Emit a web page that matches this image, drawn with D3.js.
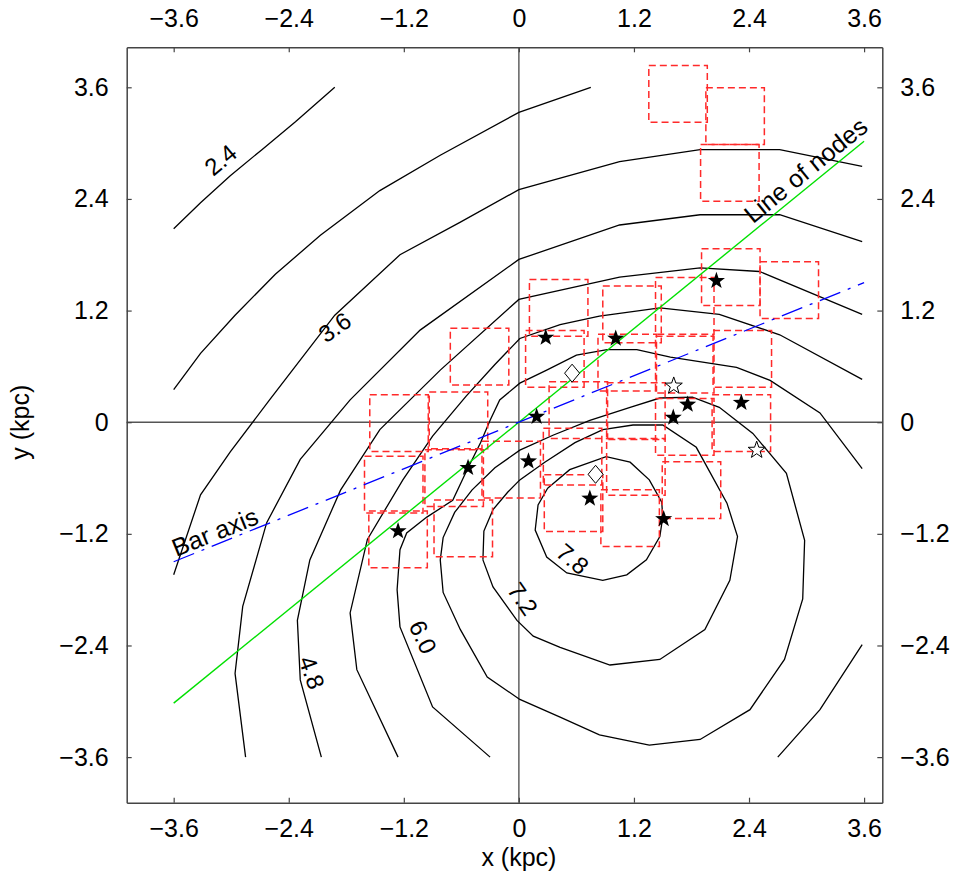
<!DOCTYPE html>
<html>
<head>
<meta charset="utf-8">
<script src="https://cdn.jsdelivr.net/npm/d3@7"></script>
<style>
  body { margin: 0; background: #fff; }
  svg text { font-family: "Liberation Sans", Arial, sans-serif; }
</style>
</head>
<body>
<div id="chart"></div>
<script>
// ---- data (kpc) ----
const xTicks = [-3.6, -2.4, -1.2, 0, 1.2, 2.4, 3.6];
const yTicks = [-3.6, -2.4, -1.2, 0, 1.2, 2.4, 3.6];
const xDomain = [-4.09, 3.79];
const yDomain = [-4.09, 4.03];

// isodensity contours, one polyline (or several) per level
const contour2_4 = [[[-3.60,2.08],[-3.32,2.36],[-3.01,2.65],[-2.68,2.93],[-2.33,3.23],[-1.92,3.60]]];
const contour3_0 = [[[-3.60,0.35],[-3.32,0.74],[-2.96,1.15],[-2.54,1.59],[-2.07,2.01],[-1.45,2.49],[-0.82,2.87],[0.0,3.33],[0.75,3.60]]];
const contour3_6 = [[[-3.60,-1.64],[-3.32,-0.78],[-3.01,-0.32],[-2.60,0.24],[-1.92,1.15],[-1.24,1.80],[-0.61,2.15],[0.0,2.50],[1.05,2.80],[1.89,2.93],[2.72,2.93],[3.58,2.75]]];
const contour4_2 = [[[-2.85,-3.60],[-2.96,-2.70],[-2.88,-1.98],[-2.63,-1.08],[-2.28,-0.40],[-1.76,0.24],[-1.03,0.99],[0.0,1.75],[1.05,2.12],[1.89,2.23],[2.72,2.23],[3.58,1.94]]];
const contour4_8 = [[[-2.06,-3.60],[-2.28,-2.77],[-2.31,-2.13],[-2.18,-1.48],[-1.86,-0.73],[-1.45,-0.08],[-0.82,0.56],[0.0,1.32],[1.05,1.56],[1.89,1.66],[2.51,1.62],[3.58,1.16]]];
const contour5_4 = [
  [[-1.26,-3.60],[-1.69,-2.66],[-1.76,-2.05],[-1.58,-1.26],[-1.21,-0.62],[-0.90,-0.15],[-0.55,0.28],[-0.25,0.62],[0.01,0.90],[0.43,1.05],[0.84,1.14],[1.47,1.23],[2.09,1.16],[2.72,0.94],[3.58,0.46]],
  [[3.58,-2.39],[3.14,-3.09],[2.70,-3.60]]
];
const contour6_0 = [[[-0.30,-3.60],[-0.90,-3.06],[-1.24,-2.20],[-1.27,-1.80],[-1.24,-1.37],[-1.17,-1.19],[-0.96,-1.02],[-0.69,-0.84],[-0.53,-0.49],[-0.40,-0.22],[-0.30,0.02],[-0.20,0.24],[0.01,0.42],[0.29,0.56],[0.60,0.72],[0.92,0.78],[1.23,0.78],[1.58,0.70],[2.27,0.59],[2.62,0.45],[3.14,0.10],[3.58,-0.50]]];
const contour6_6 = [[[0.43,-3.17],[0.01,-2.98],[-0.33,-2.74],[-0.61,-2.23],[-0.79,-1.83],[-0.82,-1.48],[-0.79,-1.24],[-0.67,-0.97],[-0.49,-0.73],[-0.25,-0.49],[0.01,-0.30],[0.355,-0.14],[0.74,0.02],[1.16,0.16],[1.47,0.26],[1.81,0.27],[2.09,0.16],[2.44,-0.12],[2.79,-0.55],[2.98,-1.27],[2.96,-1.90],[2.77,-2.55],[2.41,-3.09],[1.89,-3.41],[1.36,-3.47],[0.84,-3.36],[0.43,-3.17]]];
const contour7_2 = [[[-0.375,-1.48],[-0.365,-1.17],[-0.27,-0.94],[-0.115,-0.75],[0.01,-0.62],[0.27,-0.43],[0.585,-0.22],[0.875,-0.08],[1.19,-0.03],[1.50,-0.03],[1.85,-0.27],[2.17,-0.87],[2.28,-1.23],[2.20,-1.70],[1.94,-2.23],[1.47,-2.55],[0.95,-2.61],[0.43,-2.42],[0.15,-2.30],[-0.02,-2.13],[-0.27,-1.77],[-0.375,-1.48]]];
const contour7_8 = [[[0.30,-0.71],[0.53,-0.51],[0.91,-0.37],[1.16,-0.43],[1.36,-0.62],[1.49,-0.86],[1.50,-1.02],[1.47,-1.23],[1.33,-1.48],[1.125,-1.64],[0.875,-1.70],[0.50,-1.62],[0.29,-1.45],[0.17,-1.16],[0.20,-0.89],[0.30,-0.71]]];
const contourSets = [contour2_4, contour3_0, contour3_6, contour4_2, contour4_8, contour5_4, contour6_0, contour6_6, contour7_2, contour7_8];

// contour labels: [x, y, text, angle]
const contourLabels = [
  [-3.11, 2.82, "2.4", -40],
  [-1.92, 1.02, "3.6", -35],
  [-2.16, -2.69, "4.8", 70],
  [-1.00, -2.31, "6.0", 65],
  [0.04, -1.90, "7.2", 55],
  [0.56, -1.47, "7.8", 40]
];

// field centres (kpc), 0.61 kpc on a side
const fieldSize = 0.61;
const fieldCentres = [
  [1.66,3.53],[2.255,3.29],[2.20,2.68],[2.21,1.56],[2.82,1.42],[1.73,1.25],
  [0.415,1.23],[1.18,1.16],[0.375,0.68],[1.13,0.64],[1.73,0.62],[2.33,0.68],
  [0.62,0.13],[1.22,0.12],[1.73,-0.05],[2.32,-0.01],[1.80,-0.73],[0.56,-0.37],
  [0.57,-0.87],[1.16,-1.03],[1.22,-0.48],[-0.08,-0.51],[-1.25,-0.01],[-0.63,0.02],
  [-1.305,-0.67],[-0.675,-0.60],[-1.26,-1.26],[-0.58,-1.14],[-0.41,0.705]
];

const filledStars = [[0.28,0.91],[1.01,0.90],[2.06,1.52],[0.185,0.06],[1.61,0.05],[1.76,0.19],[2.32,0.21],[-0.53,-0.49],[0.10,-0.42],[0.74,-0.82],[1.51,-1.04],[-1.26,-1.17]];
const openStars = [[1.615,0.39],[2.48,-0.30]];
const diamonds = [[0.555,0.527],[0.80,-0.56]];

const lineOfNodes = [[-3.6,-3.02],[3.6,3.02]];
const barAxis = [[-3.6,-1.50],[3.6,1.50]];

// ---- drawing ----
const W = 959, H = 877;
const svg = d3.select('#chart').append('svg').attr('width', W).attr('height', H);

const x = d3.scaleLinear().domain(xDomain).range([126.7, 882.3]);
const y = d3.scaleLinear().domain(yDomain).range([802.7, 47.3]);

const fmt = d => d === 0 ? '0' : d3.format('.1f')(d);
const line = d3.line().x(d => x(d[0])).y(d => y(d[1]));

// zero lines
svg.append('line').attr('x1', x(0)).attr('x2', x(0)).attr('y1', y.range()[0]).attr('y2', y.range()[1])
  .attr('stroke', '#555').attr('stroke-width', 1.4);
svg.append('line').attr('y1', y(0)).attr('y2', y(0)).attr('x1', x.range()[0]).attr('x2', x.range()[1])
  .attr('stroke', '#555').attr('stroke-width', 1.4);

// contours
contourSets.forEach(set => {
  set.forEach(seg => {
    svg.append('path').attr('d', line(seg)).attr('fill', 'none')
      .attr('stroke', '#000').attr('stroke-width', 1.3);
  });
});

svg.selectAll('.clabel').data(contourLabels).enter().append('text')
  .attr('class', 'clabel')
  .attr('transform', d => `translate(${x(d[0])},${y(d[1])}) rotate(${d[3]})`)
  .attr('text-anchor', 'middle').attr('dy', '0.35em')
  .attr('font-size', 24).text(d => d[2]);

// fields
svg.selectAll('.field').data(fieldCentres).enter().append('rect')
  .attr('class', 'field')
  .attr('x', d => x(d[0] - fieldSize / 2))
  .attr('y', d => y(d[1] + fieldSize / 2))
  .attr('width', d => x(d[0] + fieldSize / 2) - x(d[0] - fieldSize / 2))
  .attr('height', d => y(d[1] - fieldSize / 2) - y(d[1] + fieldSize / 2))
  .attr('fill', 'none').attr('stroke', '#ff2a2a').attr('stroke-width', 1.5)
  .attr('stroke-dasharray', '7,4');

// lines
svg.append('path').attr('d', line(lineOfNodes)).attr('stroke', '#00e000').attr('stroke-width', 1.4).attr('fill', 'none');
svg.append('path').attr('d', line(barAxis)).attr('stroke', '#0000ff').attr('stroke-width', 1.3).attr('fill', 'none')
  .attr('stroke-dasharray', '22,8,3,8');

function labelAlong(pts, pos, txt) {
  const a = Math.atan2(y(pts[1][1]) - y(pts[0][1]), x(pts[1][0]) - x(pts[0][0])) * 180 / Math.PI;
  svg.append('text')
    .attr('transform', `translate(${x(pos[0])},${y(pos[1])}) rotate(${a})`)
    .attr('text-anchor', 'middle').attr('dy', '0.35em')
    .attr('font-size', 25).text(txt);
}
labelAlong(lineOfNodes, [2.99, 2.71], 'Line of nodes');
labelAlong(barAxis, [-3.17, -1.18], 'Bar axis');

// markers
function starPath(R) {
  const r = R * 0.4;
  const p = [];
  for (let i = 0; i < 10; i++) {
    const rad = i % 2 ? r : R;
    const a = -Math.PI / 2 + i * Math.PI / 5;
    p.push([rad * Math.cos(a), rad * Math.sin(a)]);
  }
  return 'M' + p.map(q => q.join(',')).join('L') + 'Z';
}
svg.selectAll('.fstar').data(filledStars).enter().append('path')
  .attr('d', starPath(9)).attr('transform', d => `translate(${x(d[0])},${y(d[1])})`)
  .attr('fill', '#000');
svg.selectAll('.ostar').data(openStars).enter().append('path')
  .attr('d', starPath(9)).attr('transform', d => `translate(${x(d[0])},${y(d[1])})`)
  .attr('fill', '#fff').attr('stroke', '#000').attr('stroke-width', 1);
svg.selectAll('.diam').data(diamonds).enter().append('path')
  .attr('d', 'M0,-9L7.5,0L0,9L-7.5,0Z').attr('transform', d => `translate(${x(d[0])},${y(d[1])})`)
  .attr('fill', '#fff').attr('stroke', '#000').attr('stroke-width', 1);

// axes
const axisStyle = g => {
  g.selectAll('path.domain').attr('stroke', '#444').attr('stroke-width', 1.5);
  g.selectAll('.tick line').attr('stroke', '#444').attr('stroke-width', 1.2);
  g.selectAll('.tick text').attr('font-size', 25).attr('fill', '#000')
    .style('font-family', '"Liberation Sans", Arial, sans-serif');
};
svg.append('g').attr('transform', `translate(0,${y.range()[0]})`)
  .call(d3.axisBottom(x).tickValues(xTicks).tickFormat(fmt).tickSizeInner(-5).tickSizeOuter(0).tickPadding(17)).call(axisStyle);
svg.append('g').attr('transform', `translate(0,${y.range()[1]})`)
  .call(d3.axisTop(x).tickValues(xTicks).tickFormat(fmt).tickSizeInner(-5).tickSizeOuter(0).tickPadding(20)).call(axisStyle);
svg.append('g').attr('transform', `translate(${x.range()[0]},0)`)
  .call(d3.axisLeft(y).tickValues(yTicks).tickFormat(fmt).tickSizeInner(-5).tickSizeOuter(0).tickPadding(18)).call(axisStyle);
svg.append('g').attr('transform', `translate(${x.range()[1]},0)`)
  .call(d3.axisRight(y).tickValues(yTicks).tickFormat(fmt).tickSizeInner(-5).tickSizeOuter(0).tickPadding(18)).call(axisStyle);

svg.append('text').attr('x', x(0)).attr('y', 866).attr('text-anchor', 'middle')
  .attr('font-size', 25).text('x (kpc)');
svg.append('text').attr('transform', `translate(29,${y(0)}) rotate(-90)`).attr('text-anchor', 'middle')
  .attr('font-size', 25).text('y (kpc)');
</script>
</body>
</html>
